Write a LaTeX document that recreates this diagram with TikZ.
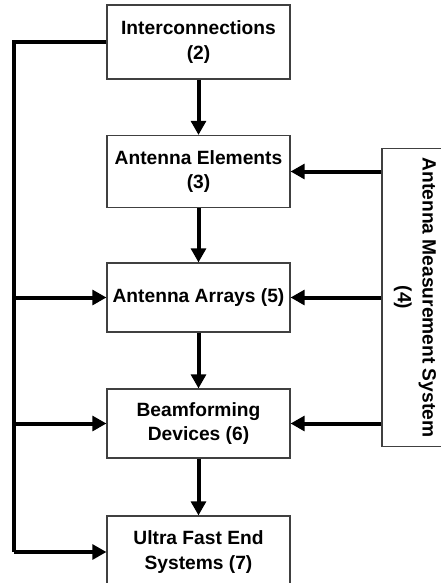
\documentclass[tikz,border=0pt]{standalone}
\usepackage{fontspec}
\setmainfont{Liberation Sans}
\usetikzlibrary{arrows.meta}

\tikzset{
  block/.style={draw=black!75, line width=0.8pt, minimum width=137.25pt, minimum height=54pt,
    align=center, font=\bfseries\fontsize{14.4}{18.5}\selectfont, inner sep=2pt},
  vblock/.style={block, rotate=-90, minimum width=224pt, minimum height=49.5pt},
  link/.style={line width=3pt, -{Triangle[width=11pt,length=10.5pt]}},
  bus/.style={line width=3pt}
}

\begin{document}
\begin{tikzpicture}[x=0.75pt, y=-0.75pt]
  \useasboundingbox (0,0) rectangle (440,583);
  % blocks
  \node[block, minimum height=55.5pt] (ic) at (198.5, 42) {Interconnections\\(2)};
  \node[block] (ae) at (198.5, 171.5) {Antenna Elements\\(3)};
  \node[block, minimum height=51.75pt] (aa) at (198.5, 297.5) {Antenna Arrays (5)};
  \node[block, minimum height=51.75pt] (bf) at (198.5, 423.5) {Beamforming\\Devices (6)};
  \node[block] (ue) at (198.5, 552) {Ultra Fast End\\Systems (7)};
  \node[vblock] (ams) at (415, 297.5) {Antenna Measurement System\\(4)};
  % chain
  \draw[link] (ic) -- (ae);
  \draw[link] (ae) -- (aa);
  \draw[link] (aa) -- (bf);
  \draw[link] (bf) -- (ue);
  % left feed
  \coordinate (bustop) at (14, 42);
  \draw[bus] (ic.west) -- (bustop) -- (bustop |- ue.west);
  \draw[link] (bustop |- aa.west) -- (aa.west);
  \draw[link] (bustop |- bf.west) -- (bf.west);
  \draw[link] (bustop |- ue.west) -- (ue.west);
  % measurement system
  \draw[link] (ams.south |- ae.east) -- (ae.east);
  \draw[link] (ams.south |- aa.east) -- (aa.east);
  \draw[link] (ams.south |- bf.east) -- (bf.east);
\end{tikzpicture}
\end{document}
